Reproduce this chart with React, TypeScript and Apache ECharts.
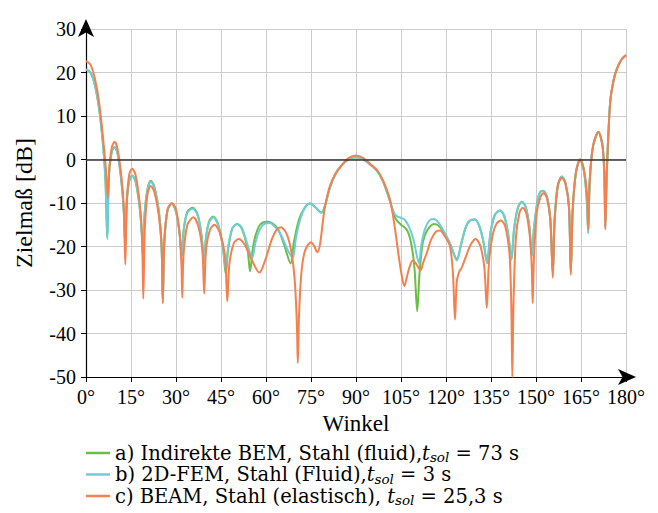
import React, { useEffect, useRef } from 'react';
import * as echarts from 'echarts';

const seriesNames = [
  'a) Indirekte BEM, Stahl (fluid)',
  'b) 2D-FEM, Stahl (Fluid)',
  'c) BEAM, Stahl (elastisch)',
];
const legendTails = [',{i|t}{s|sol}{n| = 73 s}', ',{i|t}{s|sol}{n| = 3 s}', ', {i|t}{s|sol}{n| = 25,3 s}'];
const seriesColors = ['#6cbd45', '#6dcdd6', '#f5804e'];

const greenData: [number, number][] = [
  [0, 20.7], [1.5, 20], [3, 17], [4.5, 11], [5.8, 2.5], [6.5, -5], [7.1, -18], [7.6, -4], [8.5, 1.5], [9.5, 2.9],
  [10.5, 1.5], [11.8, -5], [12.6, -12], [13.1, -20], [13.6, -9.5], [14.4, -5], [15.4, -3.7], [16.5, -5], [17.9, -11],
  [18.6, -17], [19, -22.6], [19.5, -13], [20.5, -6.8], [21.6, -4.9], [22.8, -6.3], [24.3, -12], [25.2, -20], [25.6, -32],
  [26.1, -19], [27.2, -11.5], [28.6, -10.2], [30, -12], [31.2, -17], [31.9, -22.2], [32.6, -16], [33.8, -12], [35.6, -11.1],
  [37.3, -12.8], [38.6, -18], [39.3, -24], [40, -18], [41, -14.3], [42.4, -13.1], [44, -14.8], [45.6, -20], [46.6, -26.4],
  [47.4, -20.5], [48.8, -15.8], [50.4, -14.8], [52, -16], [53.8, -20.5], [54.7, -25.7], [55.5, -21], [56.5, -17.5], [58, -15],
  [60.2, -14.3], [62, -14.6], [64, -16], [66, -19.5], [68.2, -23.9], [69.3, -19], [71, -13.8], [73, -11], [74.7, -10.1],
  [76.5, -11], [78.4, -12.2], [79.5, -11], [81.3, -6.5], [83, -3.5], [85, -1.5], [87.5, 0], [90, 0.5], [92.5, 0], [95, -1.3],
  [97, -2.6], [99, -5], [101.3, -9.5], [102.5, -12.3], [103.3, -13.7], [105, -15], [106.9, -16.1], [108.3, -19], [109.5, -25],
  [110.4, -34.9], [111.2, -26], [112.3, -19], [113.8, -16.2], [116, -14.8], [117.5, -15.2], [119.5, -17], [121.5, -19.7],
  [123.6, -22.9], [125.2, -19], [126.8, -15.2], [128.3, -13.9], [129.7, -13.8], [131.2, -15.5], [132.5, -19], [133.7, -23.8],
  [134.8, -17], [136.3, -12.7], [138, -11.7], [139.5, -13.2], [140.8, -17.5], [141.8, -23], [142.7, -16], [144, -11],
  [145.3, -9.7], [146.6, -11], [147.8, -15.5], [148.6, -22.2], [149.3, -16], [150.5, -9.5], [151.3, -7.6], [152.4, -7.2],
  [153.7, -8.7], [154.8, -14], [155.6, -26], [156.2, -14], [157.3, -5.8], [158.6, -3.9], [159.8, -5.3], [161, -11],
  [161.6, -26], [162.2, -12], [163.3, -3], [164.7, 0], [166, -2.7], [166.9, -9], [167.4, -16.5], [167.9, -5], [169, 3],
  [170.8, 6.3], [172.2, 3], [172.8, -4], [173.1, -15.5], [173.6, -3], [174.7, 13], [175.8, 18], [176.9, 20.7], [178.5, 23],
  [180, 24],
];

const cyanData: [number, number][] = [
  [0, 20.7], [1.5, 20], [3, 17], [4.5, 11], [5.8, 2.5], [6.5, -5], [7.1, -18.3], [7.6, -4], [8.5, 1.5], [9.5, 2.9],
  [10.5, 1.5], [11.8, -5], [12.6, -12], [13.1, -20], [13.6, -9.5], [14.4, -5], [15.4, -3.7], [16.5, -5], [17.9, -11],
  [18.6, -17], [19, -22.6], [19.5, -13], [20.5, -7], [21.6, -5.1], [22.8, -6.5], [24.3, -12], [25.2, -20], [25.6, -33],
  [26.1, -19], [27.2, -11.5], [28.6, -10.2], [30, -12], [31.2, -17], [31.9, -22.2], [32.6, -16], [33.8, -12.2], [35.6, -11.3],
  [37.3, -13], [38.6, -18], [39.3, -24], [40, -18], [41, -14.5], [42.4, -13.3], [44, -15], [45.6, -20], [46.6, -25.3],
  [47.4, -20], [48.8, -15.8], [50.4, -14.8], [52, -15.8], [53.8, -19.5], [55.4, -22.6], [56.5, -19], [58, -16], [59.5, -14.8],
  [61.3, -14.6], [63, -15.5], [65, -17.3], [67, -20.5], [68.9, -22.6], [70, -18], [71.5, -13.5], [73, -11], [74.7, -10.1],
  [76.5, -11], [78.4, -12.2], [79.5, -11], [81.3, -6.5], [83, -3.5], [85, -1.5], [87.5, 0], [90, 0.5], [92.5, 0], [95, -1.3],
  [97, -2.6], [99, -5], [101.3, -9.5], [102.5, -12], [103.5, -13], [105, -13.4], [106.3, -13.9], [107.7, -15.5], [109.2, -18.5],
  [110.4, -22.5], [111, -23.8], [111.8, -19.5], [113, -16], [114.5, -14], [115.8, -13.7], [117.5, -14.5], [119.5, -16.8],
  [121.5, -19.5], [123.6, -23.2], [125.2, -19], [126.8, -15.2], [128.3, -13.9], [129.7, -13.8], [131.2, -15.5], [132.5, -19],
  [133.7, -23.8], [134.8, -17], [136.3, -12.7], [138, -11.7], [139.5, -13.2], [140.8, -17.5], [141.8, -23], [142.7, -16],
  [144, -11], [145.3, -9.7], [146.6, -11], [147.8, -15.5], [148.6, -22.2], [149.3, -16], [150.5, -9.5], [151.3, -7.6],
  [152.4, -7.2], [153.7, -8.7], [154.8, -14], [155.6, -26], [156.2, -14], [157.3, -5.8], [158.6, -3.9], [159.8, -5.3],
  [161, -11], [161.6, -26], [162.2, -12], [163.3, -3], [164.7, 0], [166, -2.7], [166.9, -9], [167.4, -17], [167.9, -5],
  [169, 3], [170.8, 6.3], [172.2, 3], [172.8, -4], [173.1, -15.5], [173.6, -3], [174.7, 13], [175.8, 18], [176.9, 20.7],
  [178.5, 23], [180, 24],
];

const orangeData: [number, number][] = [
  [0, 22.6], [1.5, 21.8], [3, 18.5], [4.5, 12.5], [5.8, 4], [6.6, -2], [7.3, -8.8], [7.8, -2], [8.6, 2.8], [9.5, 4.1],
  [10.5, 2.5], [11.8, -4], [12.6, -11], [13.1, -24.2], [13.6, -10], [14.4, -3.5], [15.4, -2.1], [16.5, -3.5], [17.9, -10],
  [18.7, -18], [19.1, -32], [19.6, -16], [20.5, -8], [21.6, -6.1], [22.8, -7.5], [24.3, -13], [25.2, -20], [25.6, -33],
  [26.1, -19], [27.2, -11.5], [28.6, -10], [30, -11.5], [31.2, -17], [31.8, -24], [32.1, -31.8], [32.5, -22], [33.8, -15],
  [35.8, -13.3], [37.5, -15.5], [38.8, -21], [39.4, -30.8], [40, -21], [41.3, -16.2], [42.8, -15], [44.6, -16.8], [46.3, -22],
  [47.1, -32.6], [47.8, -24], [49.3, -19.2], [50.9, -18.3], [52.8, -19.5], [55.2, -23], [57.8, -26], [59.8, -23], [61.9, -18.4],
  [63.5, -16.2], [65, -15.6], [66.8, -17], [68.4, -21], [69.6, -28], [70.3, -38], [70.6, -46.8], [71, -36], [71.8, -26],
  [73, -21], [75, -19], [76, -19.8], [77.1, -21.3], [78, -19.5], [79, -14], [79.7, -10.7], [81.3, -6.1], [83, -3.5], [85, -1.5],
  [87.5, 0.3], [90, 0.9], [92.5, 0.3], [95, -1.2], [96.9, -2.3], [99, -4.8], [101.3, -9.2], [102.8, -15], [104.1, -21.5],
  [105.2, -26.5], [106.1, -29.1], [106.8, -27.5], [107.6, -25.3], [108.9, -23.2], [110.3, -24.2], [111.5, -25.5], [112.5, -23.5],
  [113.6, -21.5], [115, -18.5], [116.6, -16.6], [118, -16.3], [119.5, -17.5], [121.3, -19.9], [122.3, -26], [123, -36.8],
  [123.6, -28], [124.4, -25.8], [125.2, -24.9], [126.7, -22.2], [128.3, -19.5], [129.9, -18.3], [131.5, -20], [132.8, -25],
  [133.6, -34.1], [134.3, -24], [135.5, -17.5], [136.8, -14.8], [138.3, -14], [139.8, -15.5], [141.2, -22], [141.8, -35],
  [142.1, -50], [142.5, -33], [143.3, -18], [144.5, -12.2], [145.6, -11.1], [146.8, -12.5], [148, -18], [148.6, -25],
  [148.9, -33], [149.3, -23], [150.3, -12], [151.5, -8.6], [152.5, -7.7], [153.7, -9], [154.8, -14], [155.6, -27.2],
  [156.2, -14], [157.3, -6], [158.6, -4.2], [159.8, -5.5], [161, -11], [161.6, -26.5], [162.2, -12], [163.3, -3], [164.7, 0],
  [166, -2.5], [167, -8], [167.4, -16.1], [167.9, -5], [169, 3], [170.8, 6.4], [172.2, 3], [172.8, -4], [173.1, -16.1],
  [173.6, -3], [174.7, 13], [175.8, 18], [176.9, 20.7], [178.5, 23], [180, 24],
];

const seriesData = [greenData, cyanData, orangeData];

const FONT = 'Liberation Serif';
const LEGEND_FONT = 'DejaVu Serif';

export default function App() {
  const ref = useRef<HTMLDivElement>(null);
  useEffect(() => {
    if (!ref.current) return;
    const chart = echarts.init(ref.current, null, { renderer: 'svg' });
    const axisLine = {
      onZero: false,
      lineStyle: { color: '#000', width: 1.2 },
      symbol: ['none', 'arrow'],
      symbolSize: [12, 18],
      symbolOffset: [0, 10],
    };
    chart.setOption({
      animation: false,
      backgroundColor: '#fff',
      textStyle: { fontFamily: FONT },
      grid: { left: 86, right: 32, top: 29, bottom: 136, containLabel: false },
      xAxis: {
        type: 'value',
        min: 0,
        max: 180,
        interval: 15,
        name: 'Winkel',
        nameLocation: 'middle',
        nameGap: 34,
        nameTextStyle: { fontFamily: FONT, fontSize: 23, color: '#000' },
        axisLine,
        axisTick: { show: true, length: 5, lineStyle: { color: '#000' } },
        axisLabel: { formatter: '{value}°', fontFamily: FONT, fontSize: 20, color: '#000', margin: 10 },
        splitLine: { show: true, lineStyle: { color: '#cccccc', width: 1 } },
      },
      yAxis: {
        type: 'value',
        min: -50,
        max: 30,
        interval: 10,
        name: 'Zielmaß [dB]',
        nameLocation: 'middle',
        nameGap: 50,
        nameTextStyle: { fontFamily: FONT, fontSize: 24, color: '#000' },
        axisLine,
        axisTick: { show: true, length: 5, lineStyle: { color: '#000' } },
        axisLabel: { fontFamily: FONT, fontSize: 20, color: '#000', margin: 10 },
        splitLine: { show: true, lineStyle: { color: '#cccccc', width: 1 } },
      },
      legend: {
        orient: 'vertical',
        left: 86,
        top: 443,
        height: 70,
        padding: 0,
        itemGap: 0.5,
        itemWidth: 24,
        itemHeight: 2.5,
        icon: 'rect',
        formatter: (name: string) => {
          const idx = seriesNames.indexOf(name);
          return '{n|' + name + '}' + legendTails[idx];
        },
        textStyle: {
          fontFamily: LEGEND_FONT,
          fontSize: 19.5,
          color: '#000',
          rich: {
            n: { fontFamily: LEGEND_FONT, fontSize: 19.5, color: '#000', lineHeight: 22 },
            i: { fontFamily: LEGEND_FONT, fontSize: 19.5, fontStyle: 'italic', color: '#000', lineHeight: 22 },
            s: { fontFamily: LEGEND_FONT, fontSize: 13.5, fontStyle: 'italic', color: '#000', lineHeight: 14, verticalAlign: 'bottom' },
          },
        },
        data: seriesNames,
      },
      series: seriesNames.map((name, i) => ({
        name,
        type: 'line',
        data: seriesData[i],
        showSymbol: false,
        symbol: 'none',
        smooth: 0.3,
        lineStyle: { color: seriesColors[i], width: 2 },
        itemStyle: { color: seriesColors[i] },
        z: 2 + i,
        ...(i === 0
          ? {
              markLine: {
                silent: true,
                symbol: ['none', 'none'],
                label: { show: false },
                lineStyle: { color: '#333', width: 1.5, type: 'solid' },
                data: [{ yAxis: 0 }],
              },
            }
          : {}),
      })),
    });
    return () => chart.dispose();
  }, []);
  return <div ref={ref} style={{ position: 'fixed', left: 0, top: 0, width: 658, height: 513 }} />;
}
